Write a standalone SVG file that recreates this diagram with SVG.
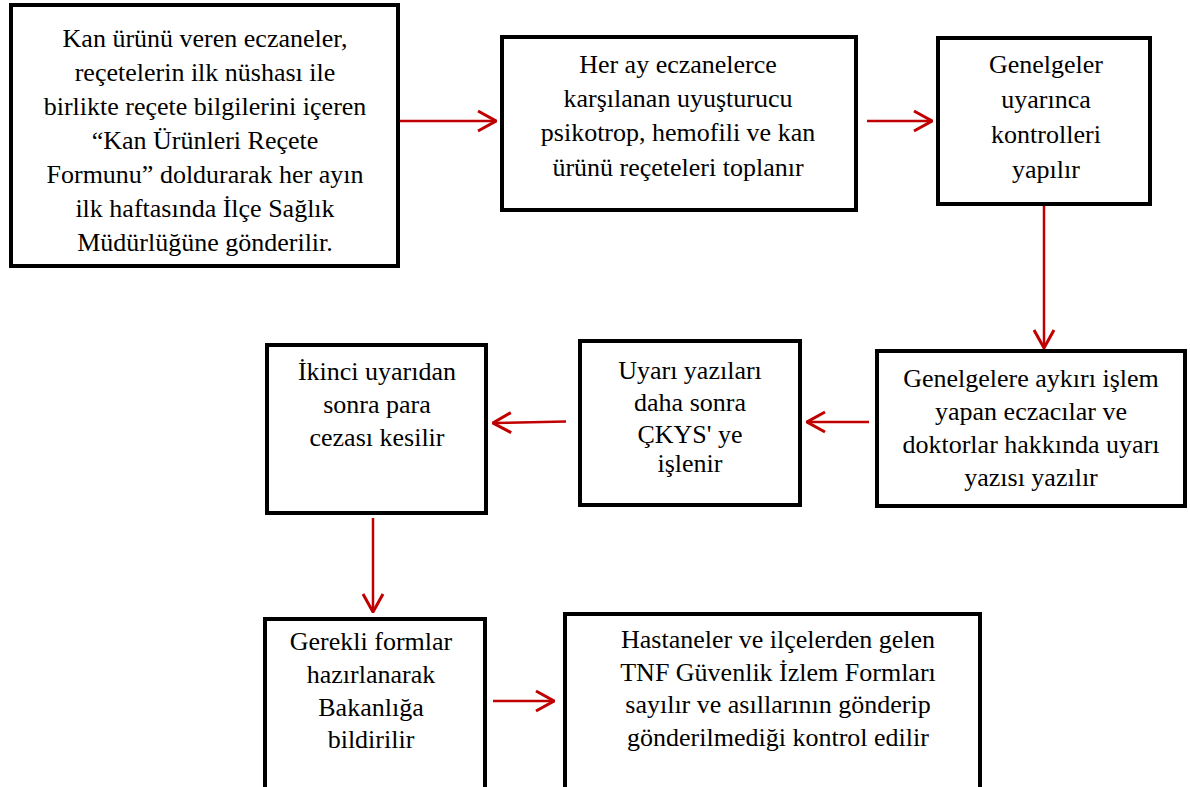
<svg xmlns="http://www.w3.org/2000/svg" width="1190" height="787" viewBox="0 0 1190 787">
<defs>
<style>
.box{fill:#fff;stroke:#000;stroke-width:4}
.t{font-family:"Liberation Serif","Times New Roman",serif;font-size:26px;fill:#000;text-anchor:middle}
.c{stroke:#C00000;stroke-width:2.5;fill:none}
</style>
<marker id="ah" viewBox="0 0 20 24" refX="19" refY="12" markerWidth="20" markerHeight="24" markerUnits="userSpaceOnUse" orient="auto">
<path d="M1,2 L19,12 L1,22" fill="none" stroke="#C00000" stroke-width="3"/>
</marker>
</defs>
<rect width="1190" height="787" fill="#fff"/>
<g id="n1">
<rect class="box" x="11" y="5" width="387" height="261"/>
<text class="t" x="205" y="47">Kan ürünü veren eczaneler,</text>
<text class="t" x="205" y="81">reçetelerin ilk nüshası ile</text>
<text class="t" x="205" y="115">birlikte reçete bilgilerini içeren</text>
<text class="t" x="205" y="149">“Kan Ürünleri Reçete</text>
<text class="t" x="205" y="183">Formunu” doldurarak her ayın</text>
<text class="t" x="205" y="217">ilk haftasında İlçe Sağlık</text>
<text class="t" x="205" y="251">Müdürlüğüne gönderilir.</text>
</g>
<g id="n2">
<rect class="box" x="502" y="37" width="354" height="173"/>
<text class="t" x="678" y="73">Her ay eczanelerce</text>
<text class="t" x="678" y="107">karşılanan uyuşturucu</text>
<text class="t" x="678" y="141">psikotrop, hemofili ve kan</text>
<text class="t" x="678" y="176">ürünü reçeteleri toplanır</text>
</g>
<g id="n3">
<rect class="box" x="938" y="38" width="212" height="166"/>
<text class="t" x="1046" y="73">Genelgeler</text>
<text class="t" x="1046" y="108">uyarınca</text>
<text class="t" x="1046" y="143">kontrolleri</text>
<text class="t" x="1046" y="178">yapılır</text>
</g>
<g id="n4">
<rect class="box" x="877" y="351" width="308" height="155"/>
<text class="t" x="1031" y="387">Genelgelere aykırı işlem</text>
<text class="t" x="1031" y="420">yapan eczacılar ve</text>
<text class="t" x="1031" y="453">doktorlar hakkında uyarı</text>
<text class="t" x="1031" y="486">yazısı yazılır</text>
</g>
<g id="n5">
<rect class="box" x="580" y="341" width="220" height="164"/>
<text class="t" x="690" y="379">Uyarı yazıları</text>
<text class="t" x="690" y="411">daha sonra</text>
<text class="t" x="690" y="443">ÇKYS' ye</text>
<text class="t" x="690" y="472">işlenir</text>
</g>
<g id="n6">
<rect class="box" x="267" y="345" width="219" height="168"/>
<text class="t" x="377" y="380">İkinci uyarıdan</text>
<text class="t" x="377" y="413">sonra para</text>
<text class="t" x="377" y="446">cezası kesilir</text>
</g>
<g id="n7">
<rect class="box" x="265" y="619" width="220" height="180"/>
<text class="t" x="371" y="650">Gerekli formlar</text>
<text class="t" x="371" y="683">hazırlanarak</text>
<text class="t" x="371" y="716">Bakanlığa</text>
<text class="t" x="371" y="748">bildirilir</text>
</g>
<g id="n8">
<rect class="box" x="565" y="614" width="415" height="185"/>
<text class="t" x="778" y="648">Hastaneler ve ilçelerden gelen</text>
<text class="t" x="778" y="681">TNF Güvenlik İzlem Formları</text>
<text class="t" x="778" y="713">sayılır ve asıllarının gönderip</text>
<text class="t" x="778" y="746">gönderilmediği kontrol edilir</text>
</g>
<g id="connectors">
<line class="c" x1="400" y1="121" x2="496" y2="121" marker-end="url(#ah)"/>
<line class="c" x1="867" y1="121" x2="932" y2="121" marker-end="url(#ah)"/>
<line class="c" x1="1044" y1="206" x2="1044" y2="348" marker-end="url(#ah)"/>
<line class="c" x1="869" y1="422" x2="807" y2="422" marker-end="url(#ah)"/>
<line class="c" x1="566" y1="421.5" x2="493" y2="423" marker-end="url(#ah)"/>
<line class="c" x1="373" y1="518" x2="373" y2="612" marker-end="url(#ah)"/>
<line class="c" x1="493" y1="701" x2="554" y2="701" marker-end="url(#ah)"/>
</g>
</svg>
